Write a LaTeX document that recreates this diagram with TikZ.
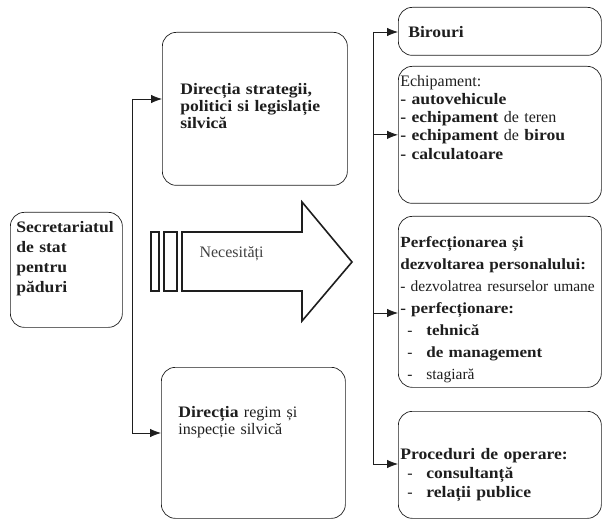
\documentclass[tikz,border=0pt]{standalone}
\usepackage{fontspec}
\setmainfont{Liberation Serif}[BoldFeatures={FakeStretch=1.1}]
\usepackage{tikz}
\usetikzlibrary{arrows.meta, positioning, calc}
\definecolor{inkgray}{RGB}{30,30,30}
\newcommand{\subpt}[1]{\makebox[26pt][l]{\hspace{7pt}-}#1}

\begin{document}
\begin{tikzpicture}[
    x=1pt, y=-1pt,
    box/.style={draw=inkgray, line width=0.7pt, rounded corners=14pt, anchor=north west, inner ysep=0pt, align=left, text=inkgray},
    arrow/.style={-{Latex[length=11pt,width=8.5pt]}, line width=0.8pt, inkgray},
    bar/.style={draw=inkgray, line width=1.6pt, line join=miter}
]
    \useasboundingbox (0,0) rectangle (603,524);

    % left column
    \node[box, inner xsep=6pt, text width=100pt, text height=20pt, text depth=95pt, font=\fontsize{16}{20}\selectfont\bfseries] (secretariat) at (10,212) {Secretariatul\\de stat\\pentru\\păduri};

    % middle column
    \node[box, inner xsep=18pt, text width=149pt, text height=62pt, text depth=91pt, font=\fontsize{16}{17}\selectfont\bfseries] (strategy) at (162,32) {Direcția strategii,\\politici si legislație\\silvică};
    \node[box, inner xsep=17pt, text width=150pt, text height=50pt, text depth=101pt, font=\fontsize{16}{17}\selectfont] (regime) at (161,367) {\textbf{Direcția} regim și\\inspecție silvică};

    % block arrow
    \draw[bar] (182,232) -- (302,232) -- (302,202) -- (352,262) -- (302,321) -- (302,291) -- (182,291) -- cycle;
    \draw[bar] (151,232) rectangle (159,291);
    \draw[bar] (164,232) rectangle (177,291);
    \node[anchor=base west, font=\fontsize{16}{19}\selectfont, text=inkgray!85] (needs) at (196,258) {Necesități};

    % right column
    \node[box, inner xsep=10pt, text width=183pt, text height=30pt, text depth=18pt, font=\fontsize{16}{19}\selectfont\bfseries] (offices) at (398,7) {Birouri};
    \node[box, inner xsep=2pt, text width=199pt, text height=20pt, text depth=117pt, font=\fontsize{16}{18.2}\selectfont] (equipment) at (398,66) {Echipament:\\\textbf{- autovehicule}\\\textbf{- echipament} de teren\\\textbf{- echipament} de \textbf{birou}\\\textbf{- calculatoare}};
    \node[box, inner xsep=2pt, text width=199pt, text height=31pt, text depth=140pt, font=\fontsize{15.5}{22}\selectfont] (training) at (398,216) {\textbf{Perfecționarea și}\\\textbf{dezvoltarea personalului:}\\\mbox{- dezvolatrea resurselor umane}\\\textbf{- perfecționare:}\\\subpt{\textbf{tehnică}}\\\subpt{\textbf{de management}}\\\subpt{stagiară}};
    \node[box, inner xsep=2pt, text width=199pt, text height=48pt, text depth=59pt, font=\fontsize{16}{19}\selectfont] (procedures) at (398,411) {\textbf{Proceduri de operare:}\\\subpt{\textbf{consultanță}}\\\subpt{\textbf{relații publice}}};

    % connectors
    \coordinate (lefttop) at (132,99);
    \coordinate (leftbot) at (132,433);
    \draw[line width=0.8pt, inkgray] (lefttop) -- (leftbot);
    \draw[arrow] (lefttop) -- (lefttop -| strategy.west);
    \draw[arrow] (leftbot) -- (leftbot -| regime.west);

    \coordinate (righttop) at (373,32);
    \coordinate (rightperf) at (373,313);
    \coordinate (rightbot) at (373,464);
    \draw[line width=0.8pt, inkgray] (righttop) -- (rightbot);
    \draw[arrow] (righttop) -- (righttop -| offices.west);
    \draw[arrow] (righttop |- equipment.west) -- (equipment.west);
    \draw[arrow] (rightperf) -- (rightperf -| training.west);
    \draw[arrow] (rightbot) -- (rightbot -| procedures.west);
\end{tikzpicture}
\end{document}
